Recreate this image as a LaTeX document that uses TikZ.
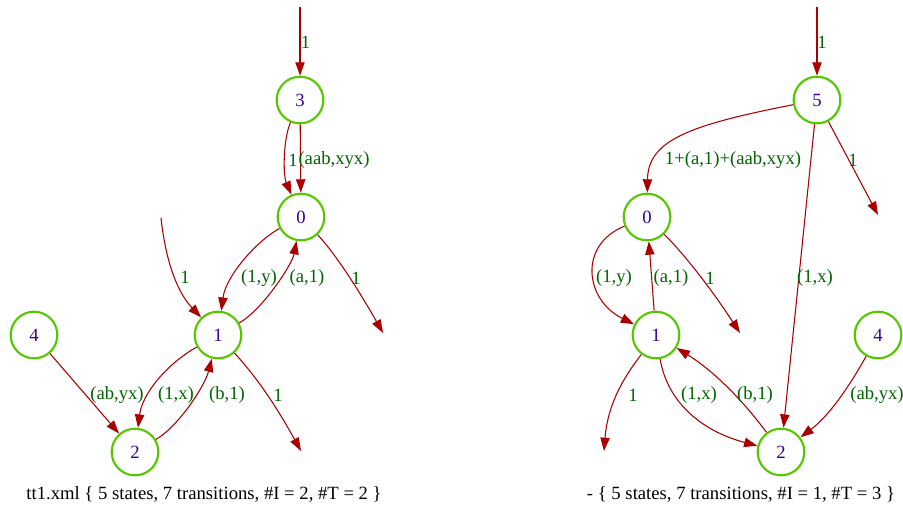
\documentclass[tikz,border=0pt]{standalone}
\usepackage{fontspec}
\setmainfont{Liberation Serif}
\usetikzlibrary{arrows.meta}
\definecolor{stgreen}{RGB}{85,200,0}
\definecolor{stblue}{RGB}{51,0,153}
\definecolor{edred}{RGB}{170,0,0}
\definecolor{lbgreen}{RGB}{0,100,0}
\tikzset{
  state/.style={circle, draw=stgreen, line width=1.6pt, minimum size=35pt, inner sep=0pt, text=stblue, font=\fontsize{14pt}{16pt}\selectfont},
  edge/.style={draw=edred, line width=0.8pt, -{Triangle[length=10pt,width=7pt]}, edred},
  lbl/.style={text=lbgreen, font=\fontsize{14pt}{16pt}\selectfont, inner sep=0pt},
  captext/.style={text=black, font=\fontsize{14pt}{16pt}\selectfont, inner sep=0pt}
}
\begin{document}
\begin{tikzpicture}[x=0.75pt, y=-0.75pt]
\useasboundingbox (0,0) rectangle (903,504);
% ---------- left automaton ----------
\node[state] (L3) at (300,100) {3};
\node[state] (L0) at (301,217) {0};
\node[state] (L1) at (218,335) {1};
\node[state] (L4) at (34,335) {4};
\node[state] (L2) at (135,452) {2};
\coordinate (Li3) at (300,7);
\coordinate (Li1) at (161,218);
\coordinate (Lf0) at (383,333);
\coordinate (Lf1) at (301,451);

\draw[edge] (Li3) -- (L3);
\draw[edge] (L3) .. controls (283,140) and (283,175) .. (L0);
\draw[edge] (L3) -- (L0);
\draw[edge] (Li1) .. controls (165,255) and (175,290) .. (L1);
\draw[edge] (L0) .. controls (258,240) and (226,275) .. (L1);
\draw[edge] (L1) .. controls (262,310) and (292,265) .. (L0);
\draw[edge] (L0) .. controls (330,248) and (350,275) .. (Lf0);
\draw[edge] (L1) .. controls (165,365) and (142,395) .. (L2);
\draw[edge] (L2) .. controls (180,425) and (205,385) .. (L1);
\draw[edge] (L4) -- (L2);
\draw[edge] (L1) .. controls (250,370) and (270,395) .. (Lf1);

\node[lbl] (la1) at (305.5,42) {1};
\node[lbl] (la2) at (293,160) {1};
\node[lbl] (la3) at (334,160) {(aab,xyx)};
\node[lbl] (la4) at (185,277) {1};
\node[lbl] (la5) at (259,278) {(1,y)};
\node[lbl] (la6) at (307,278) {(a,1)};
\node[lbl] (la7) at (356,278) {1};
\node[lbl] (la8) at (117,395) {(ab,yx)};
\node[lbl] (la9) at (176,395) {(1,x)};
\node[lbl] (la10) at (227,395) {(b,1)};
\node[lbl] (la11) at (278,395) {1};
\node[captext] (lcap) at (204,494) {tt1.xml \{ 5 states, 7 transitions, \#I = 2, \#T = 2 \}};

% ---------- right automaton ----------
\node[state] (R5) at (817,100) {5};
\node[state] (R0) at (647,217) {0};
\node[state] (R1) at (656,335) {1};
\node[state] (R4) at (878,335) {4};
\node[state] (R2) at (781,452) {2};
\coordinate (Ri5) at (817,7);
\coordinate (Rf5) at (878,215);
\coordinate (Rf0) at (740,333);
\coordinate (Rf1) at (604,451);

\draw[edge] (Ri5) -- (R5);
\draw[edge] (R5) .. controls (690,125) and (648,140) .. (R0);
\draw[edge] (R5) -- (Rf5);
\draw[edge] (R5) -- (R2);
\draw[edge] (R0) .. controls (578,245) and (585,300) .. (R1);
\draw[edge] (R1) -- (R0);
\draw[edge] (R0) .. controls (685,255) and (712,290) .. (Rf0);
\draw[edge] (R1) .. controls (628,372) and (608,400) .. (Rf1);
\draw[edge] (R1) .. controls (668,405) and (705,432) .. (R2);
\draw[edge] (R2) .. controls (750,410) and (720,375) .. (R1);
\draw[edge] (R4) .. controls (850,385) and (830,415) .. (R2);

\node[lbl] (rb1) at (822,42) {1};
\node[lbl] (rb2) at (733,160) {1+(a,1)+(aab,xyx)};
\node[lbl] (rb3) at (853,160) {1};
\node[lbl] (rb4) at (614,278) {(1,y)};
\node[lbl] (rb5) at (671,278) {(a,1)};
\node[lbl] (rb6) at (710,278) {1};
\node[lbl] (rb7) at (815,278) {(1,x)};
\node[lbl] (rb8) at (633,395) {1};
\node[lbl] (rb9) at (699,395) {(1,x)};
\node[lbl] (rb10) at (755,395) {(b,1)};
\node[lbl] (rb11) at (877,395) {(ab,yx)};
\node[captext] (rcap) at (741,494) {- \{ 5 states, 7 transitions, \#I = 1, \#T = 3 \}};
\end{tikzpicture}
\end{document}
